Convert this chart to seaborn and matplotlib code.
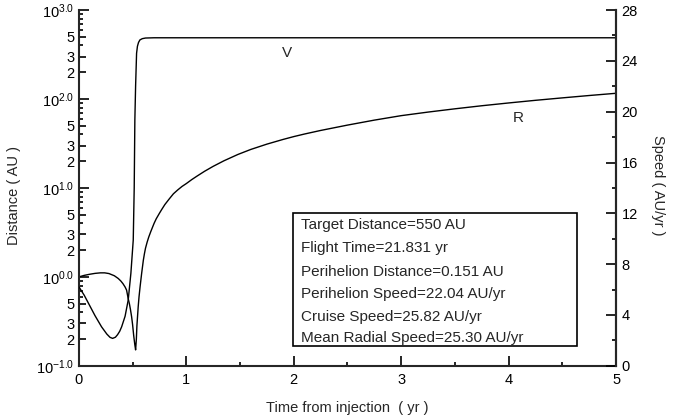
import numpy as np
import pandas as pd
import matplotlib
matplotlib.use("Agg")
import matplotlib.pyplot as plt
import seaborn as sns
from matplotlib.ticker import FixedLocator, FuncFormatter, MultipleLocator
from matplotlib.patches import Rectangle

# ---- data ----
r_time = [0.0, 0.05, 0.10, 0.15, 0.20, 0.24, 0.28, 0.33, 0.366, 0.39, 0.41,
          0.43, 0.444, 0.459, 0.47, 0.48, 0.491, 0.50, 0.51, 0.52,
          0.528, 0.535, 0.54, 0.552, 0.56, 0.57, 0.584, 0.60, 0.61, 0.62,
          0.635, 0.65, 0.67, 0.70, 0.72, 0.75, 0.77, 0.80, 0.84, 0.88, 0.92,
          0.96, 1.00, 1.05, 1.10, 1.17, 1.25, 1.35, 1.48, 1.60, 1.75, 1.90,
          2.00, 2.10, 2.25, 2.50, 2.75, 3.00, 3.25, 3.50, 3.75, 4.00, 4.25,
          4.50, 4.75, 5.00]
r_dist = [1.00, 1.04, 1.07, 1.095, 1.11, 1.11, 1.09, 1.03, 0.96, 0.90, 0.84,
          0.77, 0.71, 0.57, 0.50, 0.43, 0.355, 0.29, 0.22, 0.175,
          0.151, 0.20, 0.28, 0.46, 0.60, 0.78, 1.09, 1.54, 1.82, 2.1,
          2.45, 2.8, 3.25, 4.0, 4.5, 5.2, 5.7, 6.5, 7.5, 8.6, 9.5,
          10.4, 11.2, 12.4, 13.6, 15.4, 17.5, 20.2, 23.8, 27.1, 31.1, 35.1,
          37.8, 40.4, 44.3, 50.9, 57.9, 65.0, 71.3, 77.6, 84.0, 90.3, 96.7,
          103.0, 109.5, 116.0]

v_time = [0.0, 0.05, 0.10, 0.15, 0.211, 0.26, 0.29, 0.314, 0.34, 0.36, 0.38,
          0.398, 0.43, 0.459, 0.484, 0.506, 0.515, 0.521, 0.528, 0.537,
          0.545, 0.555, 0.568, 0.59, 0.62, 0.70, 1.0, 2.0, 3.0, 4.0, 5.0]
v_speed = [6.22, 5.55, 4.75, 3.95, 3.07, 2.50, 2.24, 2.16, 2.25, 2.45, 2.72,
           3.07, 3.90, 5.17, 7.28, 9.90, 14.0, 19.35, 22.04, 24.6,
           25.15, 25.45, 25.65, 25.75, 25.8, 25.82, 25.82, 25.82, 25.82, 25.82, 25.82]

info_lines = ["Target Distance=550 AU",
              "Flight Time=21.831 yr",
              "Perihelion Distance=0.151 AU",
              "Perihelion Speed=22.04 AU/yr",
              "Cruise Speed=25.82 AU/yr",
              "Mean Radial Speed=25.30 AU/yr"]

x_ticks = [0, 1, 2, 3, 4, 5]
speed_ticks = [0, 4, 8, 12, 16, 20, 24, 28]
decades = [0.1, 1, 10, 100, 1000]
decade_labels = [r"$10^{-1.0}$", r"$10^{0.0}$", r"$10^{1.0}$", r"$10^{2.0}$", r"$10^{3.0}$"]

# ---- style ----
sns.set_style("ticks")
plt.rcParams["font.family"] = ["Liberation Sans", "DejaVu Sans"]
plt.rcParams["mathtext.default"] = "regular"

df_r = pd.DataFrame({"t": r_time, "R": r_dist})
df_v = pd.DataFrame({"t": v_time, "V": v_speed})

fig = plt.figure(figsize=(6.8, 4.2), dpi=100)
ax = fig.add_axes([0.116, 0.129, 0.790, 0.847])
ax2 = ax.twinx()

sns.lineplot(data=df_r, x="t", y="R", ax=ax, color="black", lw=1.0,
             estimator=None, sort=False)
sns.lineplot(data=df_v, x="t", y="V", ax=ax2, color="black", lw=1.0,
             estimator=None, sort=False)

ax.set_yscale("log")
ax.set_ylim(0.1, 1000)
ax.set_xlim(0, 5)
ax2.set_ylim(0, 28)

# left axis ticks
maj = []
for d in [0.1, 1, 10, 100]:
    maj += [d, 2 * d, 3 * d, 5 * d]
maj.append(1000)
mnr = []
for d in [0.1, 1, 10, 100]:
    mnr += [k * d for k in (4, 6, 7, 8, 9)]
ax.yaxis.set_major_locator(FixedLocator(maj))
ax.yaxis.set_minor_locator(FixedLocator(mnr))
ax.yaxis.set_minor_formatter(FuncFormatter(lambda v, p: ""))


def lfmt(v, p):
    for d, lab in zip(decades, decade_labels):
        if abs(v - d) / d < 1e-6:
            return lab
    lead = v / 10 ** np.floor(np.log10(v) + 1e-9)
    return "%d" % round(lead)


ax.yaxis.set_major_formatter(FuncFormatter(lfmt))

ax.xaxis.set_major_locator(FixedLocator(x_ticks))
ax.xaxis.set_minor_locator(MultipleLocator(0.5))
ax2.yaxis.set_major_locator(FixedLocator(speed_ticks))
ax2.yaxis.set_minor_locator(MultipleLocator(2))

for a in (ax, ax2):
    a.tick_params(which="both", direction="in", width=1.2, labelsize=10.5,
                  colors="black")
    a.tick_params(which="major", length=7)
    a.tick_params(which="minor", length=3)
    for s in a.spines.values():
        s.set_linewidth(1.5)
    a.spines["top"].set_visible(False)

ax.tick_params(axis="y", which="both", left=True, right=False, pad=3)
ax.tick_params(axis="x", which="both", top=False, pad=5)
ax2.tick_params(axis="y", which="both", left=False, right=True, pad=4)
ax2.spines["left"].set_visible(False)
ax2.spines["bottom"].set_visible(False)

# per-tick lengths on the left axis: decades long, 2/3/5 medium
fig.canvas.draw()
for tk, v in zip(ax.yaxis.get_major_ticks(), maj):
    is_dec = any(abs(v - d) / d < 1e-6 for d in decades)
    tk.tick1line.set_markersize(7 if is_dec else 5)

ax.set_xlabel("Time from injection  ( yr )", fontsize=10.5, labelpad=10)
ax.set_ylabel("Distance ( AU )", fontsize=10.5)
ax2.set_ylabel("Speed ( AU/yr )", fontsize=10.5, rotation=270)
ax.yaxis.set_label_coords(-0.107, 0.478)
ax2.yaxis.set_label_coords(1.091, 0.508)

# curve labels
ax2.text(1.94, 24.6, "V", fontsize=11, ha="center", va="center")
ax2.text(4.09, 19.5, "R", fontsize=11, ha="center", va="center")

# info box
ax.add_patch(Rectangle((0.399, 0.056), 0.528, 0.374, transform=ax.transAxes,
                       fill=False, edgecolor="black", lw=1.2, zorder=5))
ys = [0.396, 0.331, 0.265, 0.202, 0.138, 0.079]
for yy, line in zip(ys, info_lines):
    ax.text(0.413, yy, line, transform=ax.transAxes, fontsize=11,
            ha="left", va="center", zorder=6)

fig.savefig("out.png", dpi=100)
